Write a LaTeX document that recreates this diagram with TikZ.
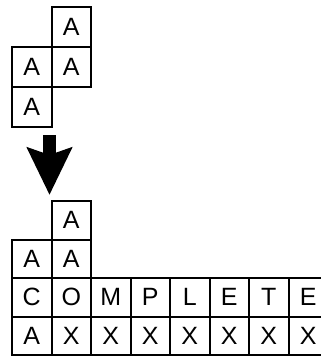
\documentclass[tikz,border=0pt]{standalone}
\usepackage{fontspec}
\setmainfont{Liberation Sans}
\usetikzlibrary{arrows.meta}
\tikzset{
  cell/.style={draw=black, line width=2pt, minimum width=39.5pt, minimum height=38.5pt,
    inner sep=0pt, font=\fontsize{25}{25}\selectfont},
  tallcell/.style={cell, minimum height=40pt},
  bigarrow/.style={line width=13pt, -{Stealth[length=47pt, width=44pt, inset=7pt]}}
}
\begin{document}
\begin{tikzpicture}[x=1pt,y=-1pt]

\clip (0,0) rectangle (321,356);

% Falling piece
\node[tallcell] (t1) at (71.25,27) {A};
\node[tallcell] (t2) at (31.75,67) {A};
\node[tallcell] (t3) at (71.25,67) {A};
\node[tallcell] (t4) at (31.75,107) {A};

% Arrow down
\coordinate (arrtop) at (49.5,135);
\coordinate (arrtip) at (49.5,195);
\draw[bigarrow] (arrtop) -- (arrtip);

% Landed piece and filled rows
\node[cell] (b1) at (71.25,220.25) {A};
\node[cell] (b2) at (31.75,258.75) {A};
\node[cell] (b3) at (71.25,258.75) {A};
\foreach \ch [count=\i from 0] in {C,O,M,P,L,E,T,E} {
  \node[cell] (c\i) at ({31.75+39.5*\i},297.25) {\ch};
}
\foreach \ch [count=\i from 0] in {A,X,X,X,X,X,X,X} {
  \node[cell] (x\i) at ({31.75+39.5*\i},335.75) {\ch};
}

\end{tikzpicture}
\end{document}
